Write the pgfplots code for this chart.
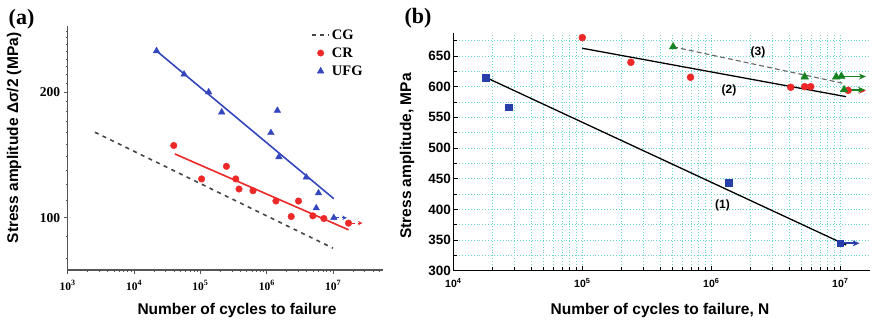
\documentclass[border=0pt]{standalone}
\usepackage{fontspec}
\setmainfont{Liberation Serif}
\setsansfont{Liberation Sans}
\usepackage{pgfplots}
\pgfplotsset{compat=1.18}
\usetikzlibrary{arrows.meta}

\definecolor{ufgblue}{RGB}{52,70,190}
\definecolor{crred}{RGB}{236,40,40}
\definecolor{sqblue}{RGB}{40,62,170}
\definecolor{trigreen}{RGB}{22,130,32}
\definecolor{gridcyan}{RGB}{105,212,200}
\definecolor{axgray}{RGB}{85,85,85}
\definecolor{cggray}{RGB}{70,70,70}

\newcommand{\fs}[1]{\fontsize{#1}{#1}\selectfont}

\begin{document}
\begin{tikzpicture}[x=1pt,y=1pt]
\useasboundingbox (0,0) rectangle (872,322);

% ---------------- (a) ----------------
\begin{axis}[
  at={(67.7pt,52pt)}, anchor=south west,
  scale only axis, width=315.3pt, height=244pt,
  xmode=log, ymode=log,
  xmin=1e3, xmax=5.62e7, ymin=75, ymax=288,
  axis x line*=bottom, axis y line*=left,
  axis line style={axgray, line width=1.1pt},
  every tick/.style={axgray, line width=0.9pt},
  tick align=outside,
  major tick length=4pt, minor tick length=2.2pt,
  xtick={1e3,1e4,1e5,1e6,1e7},
  xticklabels={10\textsuperscript{3},10\textsuperscript{4},10\textsuperscript{5},10\textsuperscript{6},10\textsuperscript{7}},
  minor xtick={2e3,3e3,4e3,5e3,6e3,7e3,8e3,9e3,2e4,3e4,4e4,5e4,6e4,7e4,8e4,9e4,
    2e5,3e5,4e5,5e5,6e5,7e5,8e5,9e5,2e6,3e6,4e6,5e6,6e6,7e6,8e6,9e6,2e7,3e7,4e7,5e7},
  ytick={100,200}, yticklabels={100,200},
  minor ytick={80,90,110,120,130,140,150,160,170,180,190,210,220,230,240,250,260,270,280},
  x tick label style={font=\rmfamily\bfseries\fs{11.5}, yshift=-3pt},
  y tick label style={font=\rmfamily\bfseries\fs{13.5}},
  xlabel={Number of cycles to failure},
  ylabel={Stress amplitude Δσ/2 (MPa)},
  xlabel style={font=\sffamily\bfseries\fs{15.5}, at={(axis description cs:0.537,-0.164)}, anchor=center},
  ylabel style={font=\sffamily\bfseries\fs{15.5}, at={(axis description cs:-0.170,0.541)}, anchor=center},
  legend style={at={(axis description cs:0.772,0.995)}, anchor=north west,
    draw=none, fill=none, inner sep=0pt, row sep=3pt,
    font=\rmfamily\bfseries\fs{14.5}},
  legend cell align=left,
  clip=false,
]
\addlegendimage{cggray, line width=1.6pt, dash pattern=on 4pt off 4pt}
\addlegendentry{CG}
\addlegendimage{only marks, mark=*, crred, mark size=3.2pt}
\addlegendentry{CR}
\addlegendimage{only marks, mark=triangle*, ufgblue, mark size=3.8pt}
\addlegendentry{UFG}

% fitted curves
\addplot[forget plot, cggray, line width=1.6pt, dash pattern=on 4pt off 4.5pt]
  coordinates {(2.57e3,160.3) (9.9e6,84.6)};
\addplot[forget plot, ufgblue, line width=1.6pt]
  coordinates {(2.18e4,251) (1.02e7,111.1)};
\addplot[forget plot, crred, line width=1.6pt]
  coordinates {(4.11e4,142.2) (1.7e7,93.6)};

% UFG data
\addplot[forget plot, only marks, mark=triangle*, ufgblue, mark size=3.8pt]
  coordinates {(2.18e4,251) (5.66e4,220.6) (1.33e5,200) (2.09e5,179)
    (1.15e6,159.8) (1.44e6,180.7) (1.52e6,139.9) (3.93e6,125)
    (6.0e6,114.6) (5.55e6,105.5) (1.02e7,100)};
\addplot[forget plot, ufgblue, line width=1.2pt, dashed, -{Stealth[length=4.5pt,width=4.5pt]}]
  coordinates {(1.1e7,100) (1.6e7,100)};

% CR data
\addplot[forget plot, only marks, mark=*, crred, mark size=3.3pt]
  coordinates {(3.96e4,149) (1.04e5,123.9) (2.46e5,132.8) (3.4e5,123.9)
    (3.81e5,117.2) (6.18e5,116.1) (1.37e6,109.7) (3.0e6,109.7)
    (2.33e6,100.7) (4.93e6,101.1) (7.23e6,99.6) (1.7e7,97.1)};
\addplot[forget plot, crred, line width=1.2pt, dashed, -{Stealth[length=4.5pt,width=4.5pt]}]
  coordinates {(1.95e7,97.1) (2.75e7,97.1)};
\end{axis}

% ---------------- (b) ----------------
\begin{axis}[
  at={(453.3pt,51.3pt)}, anchor=south west,
  scale only axis, width=416.7pt, height=237.4pt,
  xmode=log,
  xmin=1e4, xmax=1.7e7, ymin=300, ymax=687,
  axis x line*=bottom, axis y line*=left,
  axis line style={black, line width=1.3pt},
  every tick/.style={black, line width=0.9pt},
  tick align=inside,
  major tick length=4.5pt, minor tick length=4pt,
  xtick={1e4,1e5,1e6,1e7},
  xticklabels={10\textsuperscript{4},10\textsuperscript{5},10\textsuperscript{6},10\textsuperscript{7}},
  minor xtick={2e4,3e4,4e4,5e4,6e4,7e4,8e4,9e4,
    2e5,3e5,4e5,5e5,6e5,7e5,8e5,9e5,2e6,3e6,4e6,5e6,6e6,7e6,8e6,9e6},
  ytick={300,350,400,450,500,550,600,650},
  yticklabels={300,350,400,450,500,550,600,650},
  minor ytick={325,375,425,475,525,575,625,675},
  grid=both,
  major grid style={gridcyan, line width=0.9pt, dotted},
  minor grid style={gridcyan, line width=0.9pt, dotted},
  x tick label style={font=\sffamily\bfseries\fs{10.5}, yshift=-4pt},
  y tick label style={font=\sffamily\bfseries\fs{13.5}, xshift=1pt},
  xlabel={Number of cycles to failure, N},
  ylabel={Stress amplitude, MPa},
  xlabel style={font=\sffamily\bfseries\fs{15.5}, at={(axis description cs:0.496,-0.166)}, anchor=center},
  ylabel style={font=\sffamily\bfseries\fs{15.5}, at={(axis description cs:-0.111,0.483)}, anchor=center},
  clip=false,
]
% fitted lines
\addplot[black, line width=1.3pt] coordinates {(1.79e4,615) (1.11e7,341.9)};
\addplot[black, line width=1.3pt] coordinates {(1e5,662.6) (1.11e7,583.7)};
\addplot[black!60, line width=1.1pt, dash pattern=on 5pt off 3pt] coordinates {(5.06e5,665) (1.05e7,605.5)};

% series (1)
\addplot[only marks, mark=square*, sqblue, mark size=3.4pt]
  coordinates {(1.79e4,615) (2.67e4,566.4) (1.37e6,443) (1e7,344.7)};
\addplot[sqblue, line width=1.6pt, -{Stealth[length=7pt,width=6pt]}]
  coordinates {(1.05e7,344.7) (1.41e7,344.7)};

% series (2)
\addplot[only marks, mark=*, crred, mark size=3.5pt]
  coordinates {(1e5,680) (2.38e5,639.7) (6.9e5,615.3) (4.13e6,599)
    (5.3e6,600) (5.9e6,600) (1.15e7,594)};
\addplot[crred, line width=1.6pt, -{Stealth[length=7pt,width=6pt]}]
  coordinates {(1.2e7,593.5) (1.58e7,593.5)};

% series (3)
\addplot[only marks, mark=triangle*, trigreen, mark size=4.4pt]
  coordinates {(5.06e5,665) (5.3e6,616) (9.3e6,616) (1.02e7,617) (1.07e7,595)};
\addplot[trigreen, line width=1.6pt, -{Stealth[length=7pt,width=6pt]}]
  coordinates {(1.06e7,616.5) (1.58e7,616.5)};
\addplot[trigreen, line width=1.6pt, -{Stealth[length=7pt,width=6pt]}]
  coordinates {(1.11e7,595) (1.55e7,595)};

\node[font=\sffamily\bfseries\fs{12}] at (axis cs:2.3e6,655.4) {(3)};
\node[font=\sffamily\bfseries\fs{12}] at (axis cs:1.37e6,594.6) {(2)};
\node[font=\sffamily\bfseries\fs{12}] at (axis cs:1.22e6,407) {(1)};
\end{axis}

% panel tags
\node[font=\rmfamily\bfseries\fs{22}] at (21.5,303) {(a)};
\node[font=\rmfamily\bfseries\fs{22}] at (418,304) {(b)};
\end{tikzpicture}
\end{document}
